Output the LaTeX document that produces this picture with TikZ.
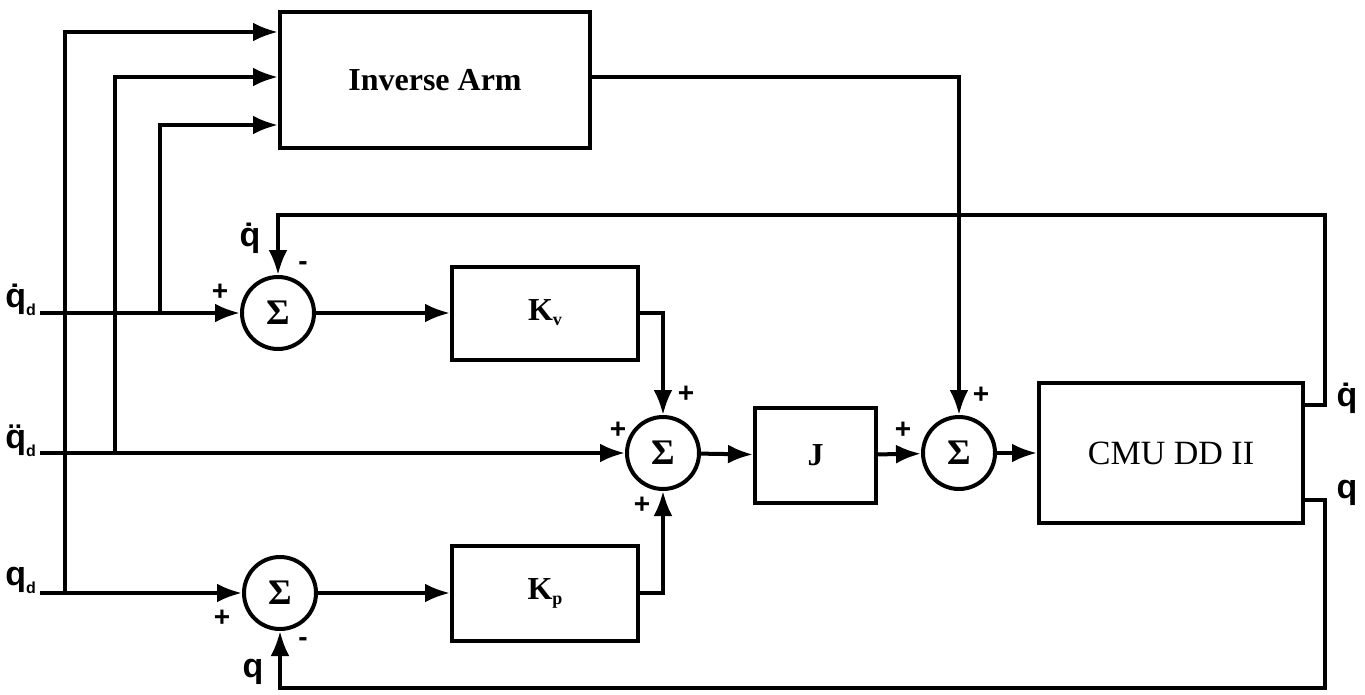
\documentclass[tikz,border=0pt]{standalone}
\usepackage{fontspec}
\setmainfont{Liberation Serif}
\newfontfamily\lblfont{Liberation Sans}
\usetikzlibrary{arrows.meta}
\begin{document}
\begin{tikzpicture}[x=1pt,y=-1pt,
  line width=4pt,
  arr/.style={-{Latex[length=25pt,width=19pt]}},
  blk/.style={draw,line width=4pt,inner sep=0pt,font=\fontsize{32}{34}\selectfont\bfseries},
  sumnode/.style={draw,circle,line width=4pt,minimum size=72pt,inner sep=0pt,font=\fontsize{36}{36}\selectfont\bfseries},
  sgn/.style={font=\fontsize{28}{28}\selectfont\bfseries\lblfont,inner sep=0pt},
  lbl/.style={font=\fontsize{34}{34}\selectfont\bfseries\lblfont,inner sep=0pt}]
\useasboundingbox (0,0) rectangle (1365,695);
% blocks
\node[blk,minimum width=310pt,minimum height=136pt] (ia) at (435,80) {Inverse Arm};
\node[blk,minimum width=186pt,minimum height=93pt] (kv) at (545,313) {K\raisebox{-5pt}{\fontsize{18}{18}\selectfont v}};
\node[blk,minimum width=186pt,minimum height=95pt] (kp) at (545,593) {K\raisebox{-5pt}{\fontsize{18}{18}\selectfont p}};
\node[blk,minimum width=121pt,minimum height=95pt] (j) at (815.5,455.5) {J};
\node[draw,line width=4pt,minimum width=264pt,minimum height=140pt,font=\fontsize{34}{36}\selectfont] (cmu) at (1171,453) {CMU DD II};
% summers
\node[sumnode] (s1) at (278,313) {Σ};
\node[sumnode] (s2) at (663,453) {Σ};
\node[sumnode] (s3) at (959,453) {Σ};
\node[sumnode] (s4) at (280,593) {Σ};
% input coordinates
\coordinate (in1) at (40,313);
\coordinate (in2) at (40,453);
\coordinate (in3) at (40,593);
\node[lbl,anchor=east] (l1) at (38,300) {\.q\raisebox{-8pt}{\fontsize{16}{16}\selectfont d}};
\node[lbl,anchor=east] (l2) at (38,441) {\"q\raisebox{-8pt}{\fontsize{16}{16}\selectfont d}};
\node[lbl,anchor=east] (l3) at (38,580) {q\raisebox{-8pt}{\fontsize{16}{16}\selectfont d}};
% inputs to summers
\draw[arr] (in1) -- (s1);
\draw[arr] (in2) -- (s2);
\draw[arr] (in3) -- (s4);
% bus to inverse arm
\draw[arr] (65,593) |- (ia.west |- 0,32);
\draw[arr] (115,453) |- (ia.west |- 0,77);
\draw[arr] (160,313) |- (ia.west |- 0,125);
% forward path
\draw[arr] (s1) -- (kv);
\draw[arr] (s4) -- (kp);
\draw[arr] (kv.east) -| (s2.north);
\draw[arr] (kp.east) -| (s2.south);
\draw[arr] (s2) -- (j);
\draw[arr] (j) -- (s3);
\draw[arr] (s3) -- (cmu);
\draw[arr] (ia.east |- 0,77) -| (s3.north);
% feedback
\coordinate (qd1) at (1325,405);
\coordinate (qd2) at (1325,215);
\coordinate (q1) at (1325,500);
\coordinate (q2) at (1325,688);
\draw[arr] (cmu.east |- qd1) -- (qd1) -- (qd2) -| (s1.north);
\draw[arr] (cmu.east |- q1) -- (q1) -- (q2) -| (s4.south);
\node[lbl] (lqd) at (1347,398) {\.q};
\node[lbl] (lq) at (1347,493) {q};
\node[lbl] (lqd1) at (250,238) {\.q};
\node[lbl] (lq1) at (253,672) {q};
% signs
\node[sgn] at (220,292) {+};
\node[sgn] at (303,266) {-};
\node[sgn] at (618,430) {+};
\node[sgn] at (686,394) {+};
\node[sgn] at (642,505) {+};
\node[sgn] at (903,430) {+};
\node[sgn] at (981,395) {+};
\node[sgn] at (222,618) {+};
\node[sgn] at (303,642) {-};
\end{tikzpicture}
\end{document}
